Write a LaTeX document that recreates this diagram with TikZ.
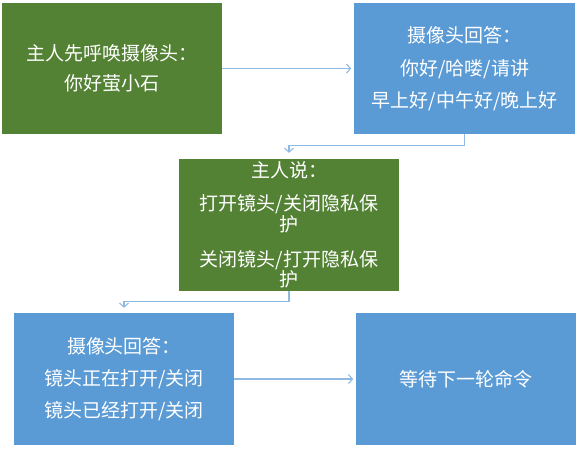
\documentclass[tikz,border=0pt]{standalone}
\usepackage{fontspec}
\newfontfamily\cjkfont{Noto Sans CJK SC}
\usetikzlibrary{arrows.meta,positioning}
\definecolor{leafgreen}{RGB}{84,130,53}
\definecolor{skyblue}{RGB}{91,155,213}
\definecolor{linkblue}{RGB}{143,186,227}

\begin{document}
\begin{tikzpicture}[
  x=1pt,
  y=-1pt,
  blk/.style={
    minimum width=220pt,
    minimum height=131pt,
    inner sep=0pt,
    align=center,
    text=white,
    font=\cjkfont\fontsize{19}{19}\selectfont
  },
  link/.style={
    draw=linkblue,
    line width=1.1pt,
    -{Straight Barb[length=4pt,width=9pt]}
  }
]
\useasboundingbox (0,0) rectangle (576,451);
% boxes
\node[blk,fill=leafgreen] (hello) at (112,68.5) {主人先呼唤摄像头：\\[11pt]你好萤小石};
\node[blk,fill=skyblue,minimum width=221pt,right=132pt of hello] (greet) {摄像头回答：\\[14pt]你好/哈喽/请讲\\[11pt]早上好/中午好/晚上好};
\node[blk,fill=leafgreen,minimum height=132pt] (order) at (289,225) {主人说：\\[14pt]打开镜头/关闭隐私保\\护\\[16pt]关闭镜头/打开隐私保\\护};
\node[blk,fill=skyblue,minimum height=132pt] (state) at (124,379) {摄像头回答：\\[13pt]镜头正在打开/关闭\\[11pt]镜头已经打开/关闭};
\node[blk,fill=skyblue,minimum height=132pt,right=122pt of state] (wait) {等待下一轮命令};
% connectors
\draw[link,shorten >=3pt] (hello) -- (greet);
\draw[link,shorten >=6pt] (greet.south) -- ++(0,11) -| (order.north);
\draw[link,shorten >=5pt] (order.south) -- ++(0,10) -| (state.north);
\draw[link,shorten >=3pt] (state) -- (wait);
\end{tikzpicture}
\end{document}
